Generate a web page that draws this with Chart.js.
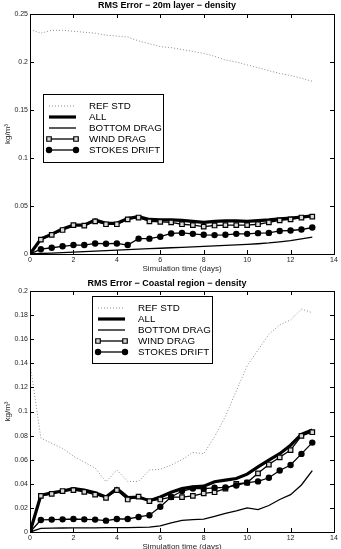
<!DOCTYPE html>
<html>
<head>
<meta charset="utf-8">
<script src="https://cdn.jsdelivr.net/npm/chart.js@4.4.1/dist/chart.umd.min.js"></script>
<style>
    html, body { margin: 0; padding: 0; background: #fff; overflow: hidden; width: 341px; height: 549px; }
    .panel { position: absolute; left: 0; }
    #panel1 { top: 0; }
    #panel2 { top: 277px; }
</style>
</head>
<body>
<div class="panel" id="panel1"><canvas id="layerChart" width="341" height="277"></canvas></div>
<div class="panel" id="panel2"><canvas id="coastChart" width="341" height="278"></canvas></div>
<script>
// time axis (days)
var days = [0, 0.5, 1, 1.5, 2, 2.5, 3, 3.5, 4, 4.5, 5, 5.5, 6, 6.5, 7, 7.5, 8, 8.5, 9, 9.5, 10, 10.5, 11, 11.5, 12, 12.5, 13];
var xTicks = [0, 2, 4, 6, 8, 10, 12, 14];

// 20m layer
var layerTicks = [0, 0.05, 0.1, 0.15, 0.2, 0.25];
var layerRef = [0.234, 0.230, 0.233, 0.233, 0.232, 0.231, 0.230, 0.228, 0.227, 0.226, 0.222, 0.219, 0.216, 0.215, 0.213, 0.211, 0.209, 0.206, 0.202, 0.200, 0.197, 0.194, 0.191, 0.188, 0.186, 0.183, 0.180];
var layerAll = [0, 0.0155, 0.0207, 0.026, 0.030, 0.030, 0.0355, 0.032, 0.032, 0.037, 0.039, 0.036, 0.0355, 0.0355, 0.035, 0.034, 0.033, 0.034, 0.0345, 0.0345, 0.034, 0.0348, 0.0355, 0.0365, 0.0375, 0.0385, 0.0397];
var layerBottom = [0, 0.0005, 0.001, 0.0015, 0.002, 0.0025, 0.003, 0.0035, 0.004, 0.0045, 0.005, 0.0055, 0.006, 0.0065, 0.007, 0.0075, 0.008, 0.0085, 0.009, 0.0095, 0.010, 0.0107, 0.0115, 0.0127, 0.014, 0.0157, 0.0175];
var layerWind = [0, 0.015, 0.020, 0.025, 0.030, 0.0295, 0.034, 0.031, 0.031, 0.036, 0.038, 0.034, 0.0335, 0.033, 0.031, 0.030, 0.0286, 0.0297, 0.030, 0.030, 0.030, 0.031, 0.033, 0.035, 0.036, 0.038, 0.039];
var layerStokes = [0, 0.005, 0.0065, 0.008, 0.0093, 0.0093, 0.011, 0.0107, 0.011, 0.0093, 0.016, 0.016, 0.018, 0.0214, 0.022, 0.021, 0.020, 0.0197, 0.020, 0.021, 0.021, 0.0217, 0.022, 0.024, 0.0245, 0.0255, 0.0276];

// coastal region
var coastTicks = [0, 0.02, 0.04, 0.06, 0.08, 0.1, 0.12, 0.14, 0.16, 0.18, 0.2];
var coastRef = [0.14, 0.078, 0.0736, 0.0694, 0.063, 0.058, 0.053, 0.0417, 0.0514, 0.042, 0.042, 0.0514, 0.052, 0.0556, 0.060, 0.066, 0.065, 0.079, 0.096, 0.117, 0.138, 0.151, 0.164, 0.172, 0.176, 0.185, 0.182];
var coastAll = [0, 0.0305, 0.0325, 0.034, 0.036, 0.0347, 0.0325, 0.029, 0.036, 0.0286, 0.029, 0.026, 0.029, 0.033, 0.036, 0.0375, 0.038, 0.0417, 0.043, 0.0444, 0.048, 0.054, 0.0597, 0.065, 0.072, 0.081, 0.0847];
var coastBottom = [0, 0.003, 0.0032, 0.0033, 0.0034, 0.0035, 0.0035, 0.0036, 0.0036, 0.0037, 0.0038, 0.004, 0.005, 0.0075, 0.0097, 0.0103, 0.0106, 0.013, 0.0155, 0.0175, 0.020, 0.0186, 0.022, 0.027, 0.031, 0.039, 0.051];
var coastWind = [0, 0.030, 0.0317, 0.034, 0.0347, 0.0333, 0.031, 0.0283, 0.0347, 0.027, 0.0294, 0.0256, 0.027, 0.029, 0.029, 0.030, 0.032, 0.033, 0.036, 0.040, 0.041, 0.0487, 0.056, 0.062, 0.068, 0.0797, 0.0828];
var coastStokes = [0, 0.010, 0.0103, 0.0105, 0.0108, 0.0105, 0.0103, 0.0094, 0.0108, 0.0108, 0.0125, 0.0139, 0.021, 0.029, 0.034, 0.036, 0.036, 0.0367, 0.037, 0.0386, 0.041, 0.042, 0.045, 0.051, 0.0556, 0.0648, 0.0742];

var FONT = '"Liberation Sans", Arial, Helvetica, sans-serif';

function pts(values) {
    return values.map(function(v, i) { return { x: days[i], y: v }; });
}

function buildDatasets(ref, all, bottom, wind, stokes) {
    return [{
        label: 'REF STD', data: pts(ref), borderColor: '#8a8a8a', borderWidth: 1,
        borderDash: [1, 2], pointRadius: 0, order: 5
    }, {
        label: 'ALL', data: pts(all), borderColor: '#000', borderWidth: 3.2,
        pointRadius: 0, order: 4
    }, {
        label: 'BOTTOM DRAG', data: pts(bottom), borderColor: '#000', borderWidth: 1.3,
        pointRadius: 0, order: 3
    }, {
        label: 'WIND DRAG', data: pts(wind), borderColor: '#000', borderWidth: 1.3,
        pointStyle: 'rect', pointRadius: 3.2, pointBorderWidth: 1.2,
        pointBackgroundColor: '#d8d8d8', pointBorderColor: '#000', order: 2
    }, {
        label: 'STOKES DRIFT', data: pts(stokes), borderColor: '#000', borderWidth: 1.3,
        pointStyle: 'circle', pointRadius: 3.2, pointBorderWidth: 0,
        pointBackgroundColor: '#000', order: 1
    }];
}

// inward ticks + box, matlab style
var boxAxes = {
    id: 'boxAxes',
    afterDatasetsDraw: function(chart) {
        var a = chart.chartArea, ctx = chart.ctx;
        var xs = chart.scales.x, ys = chart.scales.y;
        ctx.save();
        ctx.strokeStyle = '#000';
        ctx.lineWidth = 1;
        ctx.beginPath();
        xs.ticks.forEach(function(t) {
            var px = Math.round(xs.getPixelForValue(t.value)) + 0.5;
            ctx.moveTo(px, a.bottom); ctx.lineTo(px, a.bottom - 4);
            ctx.moveTo(px, a.top); ctx.lineTo(px, a.top + 4);
        });
        ys.ticks.forEach(function(t) {
            var py = Math.round(ys.getPixelForValue(t.value)) + 0.5;
            ctx.moveTo(a.left, py); ctx.lineTo(a.left + 4, py);
            ctx.moveTo(a.right, py); ctx.lineTo(a.right - 4, py);
        });
        ctx.stroke();
        ctx.strokeRect(Math.round(a.left) + 0.5, Math.round(a.top) + 0.5,
            Math.round(a.right - a.left), Math.round(a.bottom - a.top));
        ctx.restore();
    }
};

var boxLegend = {
    id: 'boxLegend',
    afterDraw: function(chart, args, opts) {
        var ctx = chart.ctx;
        var x = opts.x, y = opts.y, w = opts.w, h = opts.h;
        ctx.save();
        ctx.fillStyle = '#fff';
        ctx.fillRect(x, y, w, h);
        ctx.strokeStyle = '#000';
        ctx.lineWidth = 1;
        ctx.strokeRect(x + 0.5, y + 0.5, w, h);
        chart.data.datasets.forEach(function(ds, i) {
            var ly = y + 12 + i * 11;
            var x0 = x + 6, x1 = x + 33;
            ctx.beginPath();
            ctx.setLineDash(ds.borderDash || []);
            ctx.strokeStyle = ds.borderColor;
            ctx.lineWidth = ds.borderWidth;
            ctx.moveTo(x0, ly); ctx.lineTo(x1, ly);
            ctx.stroke();
            ctx.setLineDash([]);
            if (ds.pointRadius > 0) {
                [x0, x1].forEach(function(px) {
                    ctx.beginPath();
                    if (ds.pointStyle === 'rect') {
                        var s = ds.pointRadius * Math.SQRT1_2;
                        ctx.rect(px - s, ly - s, 2 * s, 2 * s);
                    } else {
                        ctx.arc(px, ly, ds.pointRadius, 0, Math.PI * 2);
                    }
                    ctx.fillStyle = ds.pointBackgroundColor;
                    ctx.fill();
                    if (ds.pointBorderWidth > 0) {
                        ctx.lineWidth = ds.pointBorderWidth;
                        ctx.strokeStyle = ds.pointBorderColor;
                        ctx.stroke();
                    }
                });
            }
            ctx.fillStyle = '#000';
            ctx.font = '9.8px ' + FONT;
            ctx.textBaseline = 'middle';
            ctx.textAlign = 'left';
            ctx.fillText(ds.label, x + 46, ly + 0.5);
        });
        ctx.restore();
    }
};

function makeChart(id, title, titlePad, datasets, yMax, yTicks, legendBox) {
    var ctx = document.getElementById(id).getContext('2d');
    return new Chart(ctx, {
        type: 'line',
        data: { datasets: datasets },
        plugins: [boxAxes, boxLegend],
        options: {
            responsive: false,
            animation: false,
            devicePixelRatio: 1,
            layout: { padding: { left: 0, right: 7, top: 0, bottom: 0 } },
            elements: { line: { tension: 0 } },
            plugins: {
                legend: { display: false },
                tooltip: { enabled: false },
                title: {
                    display: true, text: title, color: '#000',
                    font: { family: FONT, size: 9, weight: 'bold' },
                    padding: titlePad
                },
                boxLegend: legendBox
            },
            scales: {
                x: {
                    type: 'linear', min: 0, max: 14,
                    afterBuildTicks: function(s) { s.ticks = xTicks.map(function(v) { return { value: v }; }); },
                    afterFit: function(s) { s.height = 23; },
                    grid: { display: false, drawTicks: false },
                    border: { display: false },
                    ticks: { color: '#262626', font: { family: FONT, size: 7 }, padding: 2, maxRotation: 0 },
                    title: {
                        display: true, text: 'Simulation time (days)', color: '#262626',
                        font: { family: FONT, size: 8 }, padding: { top: 0, bottom: 3 }
                    }
                },
                y: {
                    type: 'linear', min: 0, max: yMax,
                    afterBuildTicks: function(s) { s.ticks = yTicks.map(function(v) { return { value: v }; }); },
                    afterFit: function(s) { s.width = 30; },
                    grid: { display: false, drawTicks: false },
                    border: { display: false },
                    ticks: {
                        color: '#262626', font: { family: FONT, size: 7 }, padding: 2,
                        callback: function(v) { return String(v); }
                    },
                    title: {
                        display: true, text: 'kg/m³', color: '#262626',
                        font: { family: FONT, size: 8 }, padding: { top: 3, bottom: 0 }
                    }
                }
            }
        }
    });
}

makeChart('layerChart', 'RMS Error \u2212 20m layer \u2212 density', { top: 0, bottom: 3.2 },
    buildDatasets(layerRef, layerAll, layerBottom, layerWind, layerStokes),
    0.25, layerTicks, { x: 43, y: 94, w: 120, h: 68 });

makeChart('coastChart', 'RMS Error \u2212 Coastal region \u2212 density', { top: 1.3, bottom: 1.9 },
    buildDatasets(coastRef, coastAll, coastBottom, coastWind, coastStokes),
    0.2, coastTicks, { x: 92, y: 19, w: 120, h: 67 });
</script>
</body>
</html>
